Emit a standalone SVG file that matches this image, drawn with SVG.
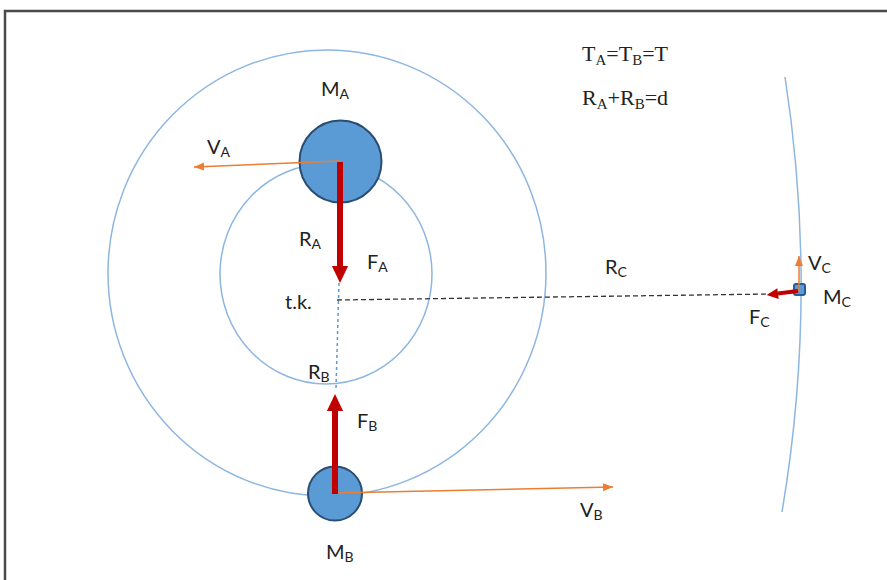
<svg xmlns="http://www.w3.org/2000/svg" width="887" height="580" viewBox="0 0 887 580">
<style>
.lbl{font-family:Lato,"Liberation Sans",sans-serif;font-size:20px;fill:#222}
.sub{font-size:14px}
.ser{font-family:"Liberation Serif","Times New Roman",serif;font-size:22px;fill:#222}
.ssub{font-size:15px}
.orbit{fill:none;stroke:#8DB6E0;stroke-width:1.5}
.mass{fill:#5B9BD5;stroke:#2A4D73;stroke-width:2}
.vel{stroke:#ED7D31;stroke-width:1.5;fill:none;marker-end:url(#ao)}
.force{stroke:#C00000;fill:none;marker-end:url(#ar)}
</style>
<defs>
<marker id="ao" markerUnits="userSpaceOnUse" markerWidth="11" markerHeight="9" refX="10" refY="4" orient="auto">
<path d="M0,0 L10,4 L0,8 z" fill="#ED7D31"/>
</marker>
<marker id="ar" markerUnits="strokeWidth" markerWidth="3" markerHeight="3" refX="0" refY="1.35" orient="auto" overflow="visible">
<path d="M0,0 L2.85,1.35 L0,2.7 z" fill="#C00000"/>
</marker>
</defs>
<rect width="887" height="580" fill="#fff"/>
<path d="M5,580 V11 H887" fill="none" stroke="#4a4a4a" stroke-width="2.5"/>
<g id="orbits">
<ellipse class="orbit" cx="327" cy="273" rx="219" ry="223"/>
<ellipse class="orbit" cx="326" cy="274" rx="106" ry="110"/>
<path class="orbit" d="M785,77 A1360,1360 0 0 1 782,512"/>
</g>
<g id="node-ma">
<circle class="mass" cx="340.5" cy="161.5" r="41"/>
<text class="lbl" x="321" y="96">M<tspan class="sub" dy="3">A</tspan></text>
</g>
<g id="node-mb">
<circle class="mass" cx="335" cy="493.5" r="27"/>
<text class="lbl" x="326" y="559">M<tspan class="sub" dy="3">B</tspan></text>
</g>
<g id="node-mc">
<rect x="794" y="284" width="11" height="11" rx="2" fill="#5B9BD5" stroke="#2A5D96" stroke-width="2"/>
<text class="lbl" x="823" y="304">M<tspan class="sub" dy="3">C</tspan></text>
</g>
<g id="connectors">
<line x1="339" y1="283" x2="336" y2="388" stroke="#5B9BD5" stroke-width="1.5" stroke-dasharray="3,3"/>
<line x1="337" y1="300" x2="770" y2="294" stroke="#333" stroke-width="1.3" stroke-dasharray="5,3"/>
<line class="vel" x1="340" y1="161" x2="194" y2="167"/>
<line class="vel" x1="335" y1="493" x2="613" y2="487"/>
<line class="vel" x1="799" y1="291" x2="799" y2="256"/>
<line class="force" x1="340" y1="162" x2="340" y2="266" stroke-width="6"/>
<line class="force" x1="335" y1="494" x2="335" y2="411" stroke-width="6"/>
<line class="force" x1="798" y1="291" x2="778" y2="293.6" stroke-width="4"/>
</g>
<g id="labels">
<text class="lbl" x="207" y="154">V<tspan class="sub" dy="3">A</tspan></text>
<text class="lbl" x="299" y="246">R<tspan class="sub" dy="3">A</tspan></text>
<text class="lbl" x="367" y="269">F<tspan class="sub" dy="3">A</tspan></text>
<text class="lbl" x="285" y="309">t.k.</text>
<text class="lbl" x="308" y="379">R<tspan class="sub" dy="3">B</tspan></text>
<text class="lbl" x="357" y="428">F<tspan class="sub" dy="3">B</tspan></text>
<text class="lbl" x="580" y="517">V<tspan class="sub" dy="3">B</tspan></text>
<text class="lbl" x="605" y="274">R<tspan class="sub" dy="3">C</tspan></text>
<text class="lbl" x="808" y="270">V<tspan class="sub" dy="3">C</tspan></text>
<text class="lbl" x="749" y="324">F<tspan class="sub" dy="3">C</tspan></text>
<text class="ser" x="582" y="61">T<tspan class="ssub" dy="4">A</tspan><tspan dy="-4">=T</tspan><tspan class="ssub" dy="4">B</tspan><tspan dy="-4">=T</tspan></text>
<text class="ser" x="582" y="105">R<tspan class="ssub" dy="4">A</tspan><tspan dy="-4">+R</tspan><tspan class="ssub" dy="4">B</tspan><tspan dy="-4">=d</tspan></text>
</g>
</svg>
